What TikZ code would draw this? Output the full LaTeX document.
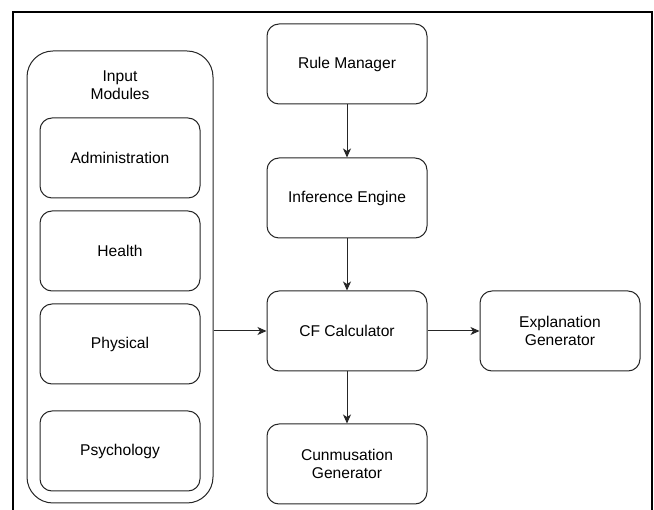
\documentclass[tikz,border=0pt]{standalone}
\usepackage{fontspec}
\setmainfont{Liberation Sans}
\usetikzlibrary{arrows.meta}
\begin{document}
\begin{tikzpicture}[x=1pt,y=-1pt,
  box/.style={draw=black!85, line width=1pt, rounded corners=12pt, minimum width=160pt, minimum height=80pt, inner sep=2pt, align=center, fill=white},
  conn/.style={draw=black!85, line width=1pt, -{Stealth[length=9pt,width=8pt,inset=2.5pt]}},
  every node/.style={font=\fontsize{15.6}{18.5}\selectfont}]
\useasboundingbox (0,0) rectangle (654,510);
\draw[line width=1.3pt] (13,512) -- (13,12) -- (652,12) -- (652,512);
\node[draw=black!85, line width=1pt, rounded corners=26pt, minimum width=186pt, minimum height=452pt, inner sep=0pt] (outer) at (120,277) {};
\node[align=center, inner sep=0pt] (title) at (120,85) {Input\\Modules};
\node[box] (admin) at (120,158) {Administration};
\node[box] (health) at (120,251) {Health};
\node[box] (phys) at (120,344) {Physical};
\node[box] (psy) at (120,451) {Psychology};
\node[box] (rule) at (347,64) {Rule Manager};
\node[box] (inf) at (347,198) {Inference Engine};
\node[box] (cf) at (347,331) {CF Calculator};
\node[box] (cun) at (347,464) {Cunmusation\\Generator};
\node[box] (expl) at (560,331) {Explanation\\Generator};
\draw[conn] (rule) -- (inf);
\draw[conn] (inf) -- (cf);
\draw[conn] (cf) -- (cun);
\draw[conn] (cf) -- (expl);
\draw[conn] (outer.east |- cf.west) -- (cf.west);
\end{tikzpicture}
\end{document}
